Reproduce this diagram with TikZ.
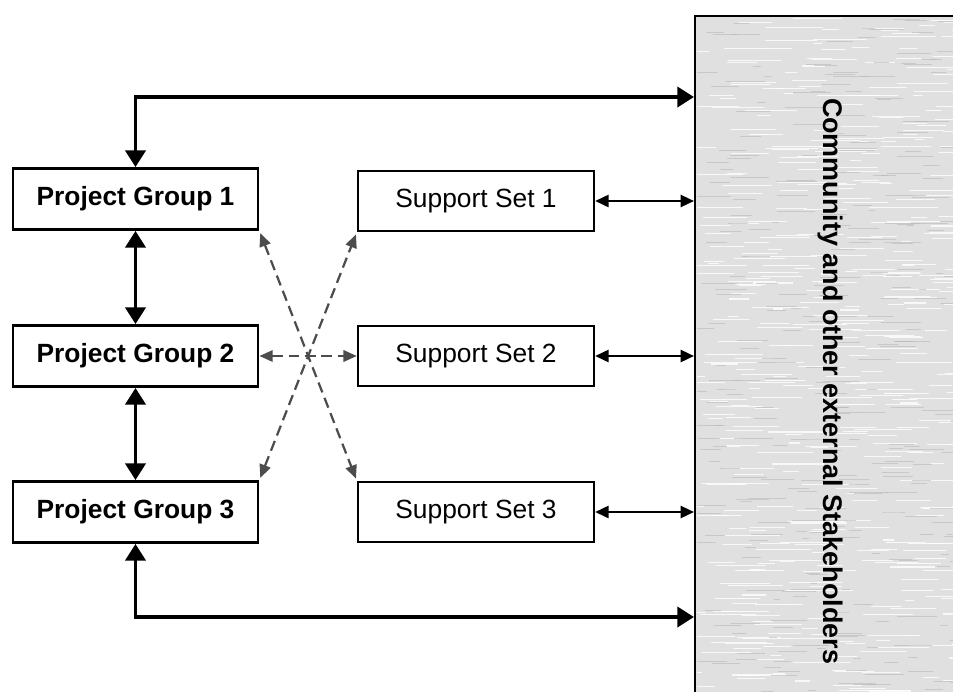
\documentclass[tikz,border=0pt]{standalone}
\usepackage{fontspec}
\setmainfont{Liberation Sans}
\usetikzlibrary{positioning, arrows.meta, calc}

\begin{document}
\begin{tikzpicture}[x=0.03cm, y=-0.03cm,
	every node/.style={font=\fontsize{22.5}{26}\selectfont},
	group/.style={draw, line width=2.4pt, fill=white, minimum width=7.35cm, minimum height=1.83cm, font=\fontsize{22.5}{26}\selectfont\bfseries},
	support/.style={draw, line width=2pt, fill=white, minimum width=7.08cm, minimum height=1.8cm},
	bigarrow/.style={line width=3.2pt, {Triangle[length=0.5cm,width=0.6cm]}-{Triangle[length=0.5cm,width=0.6cm]}},
	smallarrow/.style={line width=2pt, {Triangle[length=0.4cm,width=0.36cm]}-{Triangle[length=0.4cm,width=0.36cm]}},
	dasharrow/.style={line width=1.9pt, dash pattern=on 9pt off 5pt, black!70, {Triangle[length=0.4cm,width=0.34cm]}-{Triangle[length=0.4cm,width=0.34cm]}}]
	\useasboundingbox (0,0) rectangle (953,691);
	
	% The stakeholder panel
	\node[draw, line width=2pt, fill=black!12, anchor=north west, minimum width=9cm, minimum height=21cm] (comm) at (694,15) {};
	\begin{scope}
		\clip (697,18) rectangle (960,700);
		\pgfmathsetseed{7}
		\foreach \i in {1,...,450} {
			\pgfmathsetmacro\sx{690+rnd*270}
			\pgfmathsetmacro\sy{18+rnd*680}
			\pgfmathsetmacro\sl{8+rnd*50}
			\draw[white, line width=0.9pt, opacity=0.8] (\sx,\sy) -- ++(\sl,0);
		}
		\foreach \i in {1,...,300} {
			\pgfmathsetmacro\sx{690+rnd*270}
			\pgfmathsetmacro\sy{18+rnd*680}
			\pgfmathsetmacro\sl{6+rnd*35}
			\draw[black!28, line width=0.7pt, opacity=0.6] (\sx,\sy) -- ++(\sl,0);
		}
	\end{scope}
	\node[rotate=-90, font=\fontsize{23}{27}\selectfont\bfseries] (commtext) at (830,381) {Community and other external Stakeholders};
	
	% Project groups
	\node[group] (PG1) at (135.5,199) {Project Group 1};
	\node[group] (PG2) at (135.5,356) {Project Group 2};
	\node[group] (PG3) at (135.5,512) {Project Group 3};
	
	% Support sets
	\node[support] (SS1) at (476,201) {Support Set 1};
	\node[support] (SS2) at (476,356) {Support Set 2};
	\node[support] (SS3) at (476,512) {Support Set 3};
	
	% Entry points on the panel
	\coordinate (topin) at (694,97);
	\coordinate (botin) at (694,617);
	
	% Links between the groups and to the panel
	\draw[bigarrow] (PG1.north) |- (topin);
	\draw[bigarrow] (PG3.south) |- (botin);
	\draw[bigarrow] (PG1) -- (PG2);
	\draw[bigarrow] (PG2) -- (PG3);
	
	% Support sets to the panel
	\draw[smallarrow] (SS1.east) -- (SS1.east -| comm.west);
	\draw[smallarrow] (SS2.east) -- (SS2.east -| comm.west);
	\draw[smallarrow] (SS3.east) -- (SS3.east -| comm.west);
	
	% Dashed cross links
	\draw[dasharrow, shorten <=2pt, shorten >=2pt] (PG1.south east) -- (SS3.north west);
	\draw[dasharrow, shorten <=2pt, shorten >=2pt] (PG3.north east) -- (SS1.south west);
	\draw[dasharrow] (PG2) -- (SS2);
\end{tikzpicture}
\end{document}
